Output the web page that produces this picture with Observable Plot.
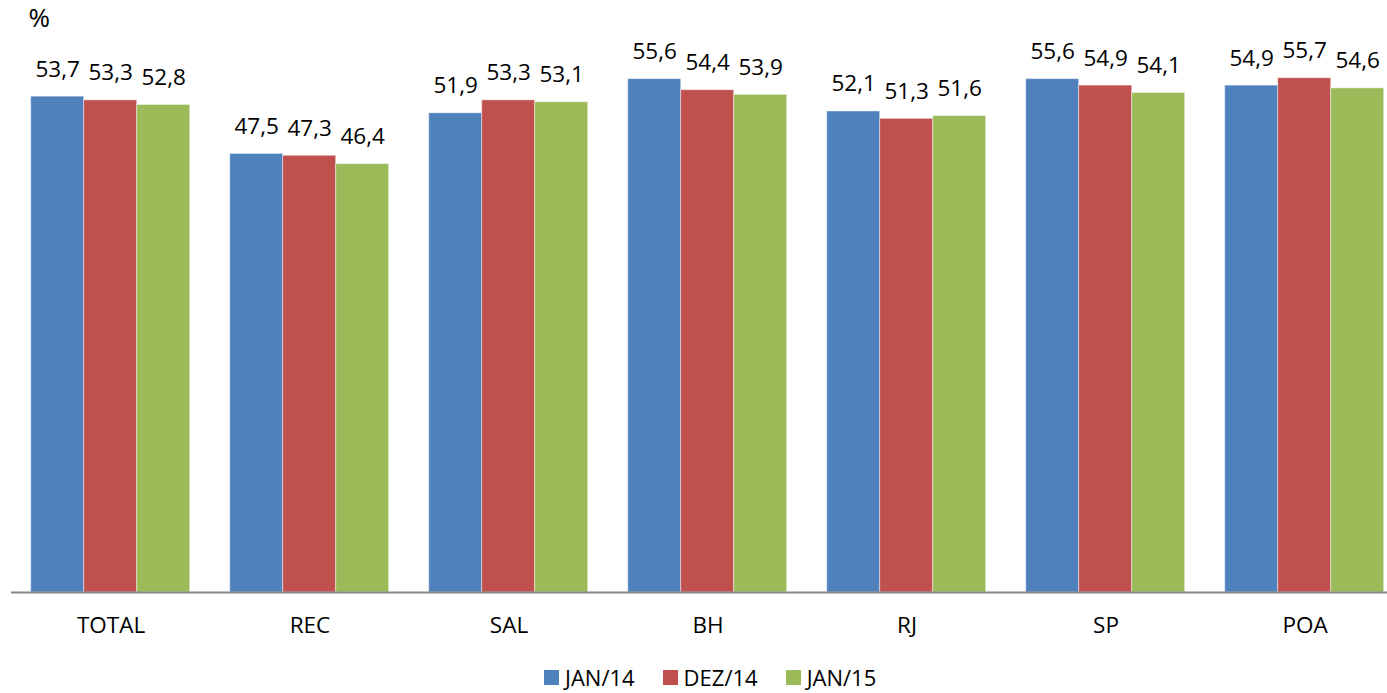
<!DOCTYPE html>
<html>
<head>
<meta charset="utf-8">
<script src="https://cdn.jsdelivr.net/npm/d3@7"></script>
<script src="https://cdn.jsdelivr.net/npm/@observablehq/plot@0.6"></script>
<style>
  html, body { margin: 0; padding: 0; background: #fff; overflow: hidden; }
  #wrap { position: relative; width: 1387px; height: 693px; font-family: "Open Sans", sans-serif; }
  #legend { position: absolute; top: 666px; left: 544px; display: flex; align-items: center; font-size: 22px; line-height: 22px; color: #000; }
  #legend .item { display: flex; align-items: center; margin-right: 28px; }
  #legend .sw { width: 15px; height: 15px; margin-right: 6px; }
</style>
</head>
<body>
<div id="wrap"><div id="chart"></div><div id="legend"></div></div>
<script>
const cities = ["TOTAL", "REC", "SAL", "BH", "RJ", "SP", "POA"];
const seriesNames = ["JAN/14", "DEZ/14", "JAN/15"];
const jan14 = [53.7, 47.5, 51.9, 55.6, 52.1, 55.6, 54.9];
const dez14 = [53.3, 47.3, 53.3, 54.4, 51.3, 54.9, 55.7];
const jan15 = [52.8, 46.4, 53.1, 53.9, 51.6, 54.1, 54.6];
const colors = ["#4F81BD", "#C0504D", "#9BBB59"];

const seriesValues = [jan14, dez14, jan15];
const data = [];
cities.forEach((c, i) => {
  seriesNames.forEach((s, j) => data.push({city: c, series: s, value: seriesValues[j][i]}));
});
const fmt = v => v.toFixed(1).replace(".", ",");

const chart = Plot.plot({
  width: 1387,
  height: 655,
  marginLeft: 9.3,
  marginRight: -19.3,
  marginTop: 38,
  marginBottom: 63,
  style: {fontFamily: "Open Sans, sans-serif", fontSize: "22.5px", color: "#000", background: "#fff"},
  fx: {domain: cities, paddingInner: 0.2, paddingOuter: 0.1, label: null, axis: "bottom", tickSize: 0, tickPadding: 25},
  x: {domain: seriesNames, padding: 0, axis: null},
  y: {domain: [0, 60], axis: null},
  color: {domain: seriesNames, range: colors},
  marks: [
    Plot.barY(data, {fx: "city", x: "series", y: "value", fill: "series", stroke: "#ffffff", strokeOpacity: 0.45, strokeWidth: 1}),
    Plot.text(data, {fx: "city", x: "series", y: "value", text: d => fmt(d.value), lineAnchor: "bottom", dy: -20, fontSize: 22.5, fill: "#000"}),
    Plot.ruleY([0], {stroke: "#868686", strokeWidth: 2, insetLeft: -20, insetRight: -20}),
    Plot.text([{city: "TOTAL"}], {fx: "city", text: () => "%", frameAnchor: "top-left", textAnchor: "start", lineAnchor: "top", dx: -3, dy: -30, fontSize: 26, fill: "#000"})
  ]
});
document.getElementById("chart").appendChild(chart);

const legend = document.getElementById("legend");
seriesNames.forEach((s, j) => {
  const item = document.createElement("div");
  item.className = "item";
  const sw = document.createElement("div");
  sw.className = "sw";
  sw.style.background = colors[j];
  const t = document.createElement("span");
  t.textContent = s;
  item.appendChild(sw);
  item.appendChild(t);
  legend.appendChild(item);
});
</script>
</body>
</html>
